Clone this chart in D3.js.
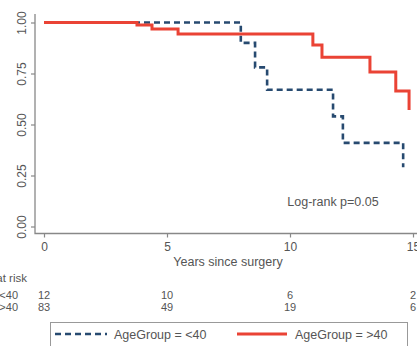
<!DOCTYPE html>
<html><head><meta charset="utf-8">
<script src="https://cdn.jsdelivr.net/npm/d3@7"></script>
<style>body{margin:0;background:#fff;}svg{display:block;font-family:"Liberation Sans",Arial,sans-serif;}</style>
</head><body>
<script>
// Data
const groups = ["AgeGroup = <40", "AgeGroup = >40"];
const timesLt40 = [0, 8.0, 8.58, 9.07, 11.75, 12.15, 14.6];
const survLt40  = [1, 0.90, 0.78, 0.67, 0.54, 0.41, 0.29];
const timesGt40 = [0, 3.78, 4.39, 5.45, 10.93, 11.3, 13.25, 14.3, 14.84];
const survGt40  = [1, 0.988, 0.968, 0.944, 0.89, 0.83, 0.757, 0.664, 0.571];
const xTicks = [0, 5, 10, 15];
const yTicks = [0, 0.25, 0.5, 0.75, 1];
const yTickLabels = ["0.00", "0.25", "0.50", "0.75", "1.00"];
const riskLt40 = [12, 10, 6, 2];
const riskGt40 = [83, 49, 19, 6];
const xLabel = "Years since surgery";
const pText = "Log-rank p=0.05";

const W = 417, H = 346;
const svg = d3.select("body").append("svg").attr("width", W).attr("height", H);
const x = d3.scaleLinear().domain([0, 15]).range([44, 413]);
const y = d3.scaleLinear().domain([0, 1]).range([226.5, 22.5]);
const textCol = "#555";
const axisCol = "#888";

// L-shaped box
svg.append("path").attr("d", `M35,14 V233.5 H${W}`).attr("fill","none").attr("stroke",axisCol).attr("stroke-width",1.3);

// Y axis
const yAxis = d3.axisLeft(y).tickValues(yTicks).tickSize(4).tickFormat((d,i)=>yTickLabels[i]);
const gy = svg.append("g").attr("transform","translate(35,0)").call(yAxis);
gy.select(".domain").remove();
gy.selectAll(".tick line").attr("stroke",axisCol).attr("stroke-width",1.2);
gy.selectAll(".tick text").attr("fill",textCol).style("font-size","12px")
  .attr("x",null).attr("dy",null)
  .attr("transform","translate(-9,0) rotate(-90)")
  .attr("text-anchor","middle").attr("dy","0");

// X axis
const xAxis = d3.axisBottom(x).tickValues(xTicks).tickSize(4);
const gx = svg.append("g").attr("transform","translate(0,233.5)").call(xAxis);
gx.select(".domain").remove();
gx.selectAll(".tick line").attr("stroke",axisCol).attr("stroke-width",1.2);
gx.selectAll(".tick text").attr("fill",textCol).style("font-size","12px").attr("y",9).attr("dy","0.71em");

svg.append("text").attr("x",228).attr("y",266).attr("text-anchor","middle")
  .attr("fill",textCol).style("font-size","12.5px").text(xLabel);
svg.append("text").attr("x",333).attr("y",206).attr("text-anchor","middle")
  .attr("fill",textCol).style("font-size","12.5px").text(pText);

// Curves
const line = d3.line().x(d=>x(d[0])).y(d=>y(d[1])).curve(d3.curveStepAfter);
const blueCol = "#274a70", redCol = "#ea4335";
svg.append("path").datum(d3.zip(timesLt40, survLt40)).attr("d", line)
  .attr("fill","none").attr("stroke",blueCol).attr("stroke-width",2.6).attr("stroke-dasharray","6,4");
svg.append("path").datum(d3.zip(timesGt40, survGt40)).attr("d", line)
  .attr("fill","none").attr("stroke",redCol).attr("stroke-width",3);

// Number at risk
svg.append("text").attr("x",27).attr("y",282).attr("text-anchor","end")
  .attr("fill",textCol).style("font-size","11.5px").text("Number at risk");
const rows = [[groups[0], riskLt40, 298.5], [groups[1], riskGt40, 310.5]];
rows.forEach(([lab, vals, yy]) => {
  svg.append("text").attr("x",18).attr("y",yy).attr("text-anchor","end")
    .attr("fill",textCol).style("font-size","11px").text(lab);
  svg.selectAll(null).data(vals).enter().append("text")
    .attr("x",(d,i)=>x(xTicks[i])).attr("y",yy).attr("text-anchor","middle")
    .attr("fill",textCol).style("font-size","11px").text(d=>d);
});

// Legend
svg.append("rect").attr("x",50.5).attr("y",322.5).attr("width",357).attr("height",40)
  .attr("fill","#fff").attr("stroke","#999").attr("stroke-width",1);
svg.append("line").attr("x1",55).attr("x2",107).attr("y1",334).attr("y2",334)
  .attr("stroke",blueCol).attr("stroke-width",2.6).attr("stroke-dasharray","6,4");
svg.append("text").attr("x",114).attr("y",338.5).attr("fill",textCol).style("font-size","12.5px").text(groups[0]);
svg.append("line").attr("x1",237).attr("x2",287).attr("y1",334).attr("y2",334)
  .attr("stroke",redCol).attr("stroke-width",3);
svg.append("text").attr("x",295).attr("y",338.5).attr("fill",textCol).style("font-size","12.5px").text(groups[1]);
</script>
</body></html>
